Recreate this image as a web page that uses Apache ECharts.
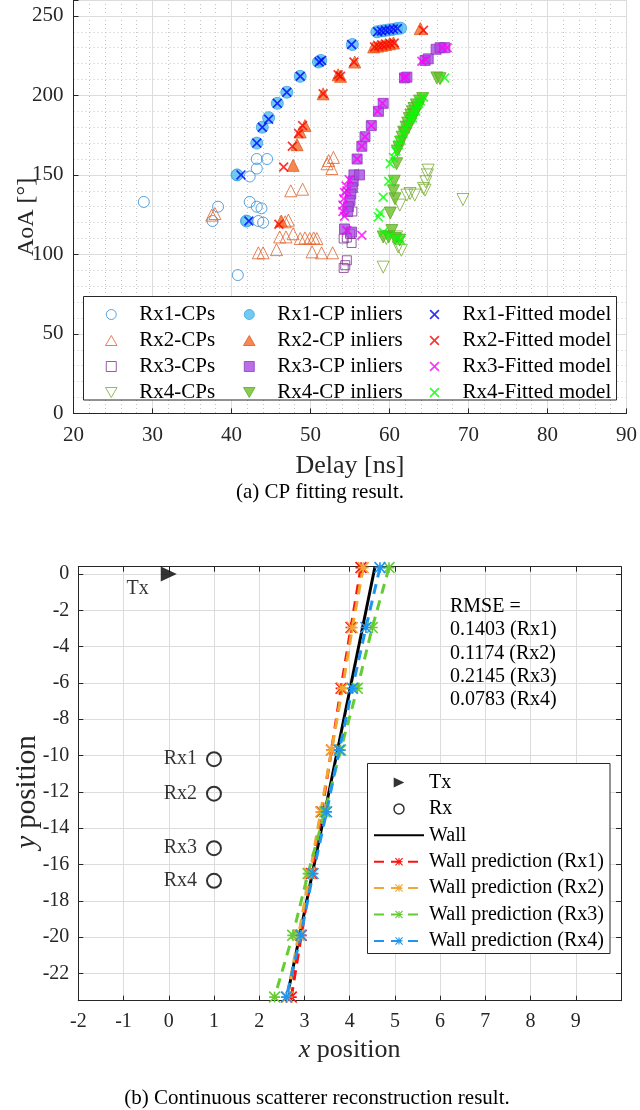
<!DOCTYPE html>
<html>
<head>
<meta charset="utf-8">
<script src="https://cdn.jsdelivr.net/npm/echarts@6/dist/echarts.min.js"></script>
<style>
html, body { margin: 0; padding: 0; background: #fff; }
#chart { width: 640px; height: 1110px; }
</style>
</head>
<body>
<div id="chart"></div>
<script>
// ---- (a) CP fitting: delay [ns] / AoA [deg] ----
const rx1CpDelay = [28.9, 37.6, 38.3, 40.8, 42.3, 43.2, 43.2, 44.5, 42.3, 43.2, 43.8, 43.4, 44.0, 40.7, 41.9]
const rx1CpAoa = [133, 121, 130, 87, 149, 154, 160, 160, 133, 130, 129, 121, 120, 150, 121]
const rx1InDelay = [40.7, 41.9, 43.2, 43.9, 44.7, 45.8, 47.0, 48.7, 51.0, 51.3, 55.3, 58.4, 58.9, 59.4, 59.9, 60.4, 60.9, 61.4]
const rx1InAoa = [150, 121, 170, 180, 186, 195, 202, 212, 221, 222, 232, 240, 240.5, 240.8, 241.2, 241.5, 242, 242.3]
const rx1FitDelay = [41.2, 42.2, 43.2, 43.9, 44.7, 45.8, 47.0, 48.7, 51.1, 51.4, 55.2, 58.5, 59.0, 59.5, 60.0, 60.5, 61.0]
const rx1FitAoa = [150, 121, 170, 180, 185, 195, 202, 212, 221, 222, 232, 240, 240.5, 241, 241.3, 241.7, 242]

const rx2CpDelay = [37.5, 37.9, 47.5, 49.0, 46.8, 47.2, 46.1, 46.9, 47.8, 48.7, 49.3, 49.9, 50.4, 50.8, 43.4, 44.0, 45.7, 50.2, 51.4, 52.8, 52.1, 52.3, 52.9, 52.7]
const rx2CpAoa = [124.7, 125.7, 140, 141, 120.5, 121.5, 111, 111, 113, 110, 110.4, 110, 110.4, 110, 101, 101, 103, 101.6, 101, 101, 157, 159, 161, 154]
const rx2InDelay = [46.3, 47.8, 48.3, 48.7, 49.3, 51.6, 53.5, 53.8, 55.6, 58.0, 58.5, 59.0, 59.5, 60.0, 60.5, 63.9]
const rx2InAoa = [121, 156, 169, 177, 181, 201, 213, 212, 221, 230.5, 231, 231.5, 232, 232.5, 233, 242]
const rx2FitDelay = [46.0, 46.6, 47.7, 48.5, 49.0, 51.6, 53.5, 53.8, 55.5, 58.1, 58.6, 59.1, 59.6, 60.1, 60.6, 64.3]
const rx2FitAoa = [119, 155, 168, 176, 181, 201, 213, 212, 221, 230.5, 231, 231.5, 232, 232.5, 233, 241]

const rx3CpDelay = [55.3, 54.6, 55.2, 54.6, 54.4, 54.2, 54.2, 55.0]
const rx3CpAoa = [127, 110.6, 107.2, 96.3, 93.2, 91.5, 110, 113]
const rx3InDelay = [55.5, 55.4, 55.3, 55.1, 55.0, 54.8, 54.7, 54.3, 55.2, 56.2, 55.9, 56.5, 56.9, 57.7, 58.6, 59.2, 61.9, 62.2, 64.5, 64.9, 65.9, 66.4, 67.0]
const rx3InAoa = [150, 146, 142, 138, 134, 130, 127, 116, 114, 150, 160, 168, 174, 181, 190, 195, 211, 211.5, 222, 223, 229, 230, 230]
const rx3FitDelay = [54.9, 54.5, 54.3, 54.2, 54.1, 54.1, 54.3, 54.6, 56.5, 55.9, 56.5, 56.9, 57.7, 58.5, 59.1, 61.8, 62.1, 64.1, 64.6, 66.7, 67.3, 54.6]
const rx3FitAoa = [147, 143, 139, 135, 131, 127, 124, 115, 112, 160, 168, 174, 181, 190, 195, 211, 211.5, 221.5, 222.5, 230, 230, 140]

const rx4CpDelay = [64.9, 64.8, 64.6, 64.5, 64.3, 62.6, 63.2, 62.2, 61.3, 69.3, 59.2, 61.5, 61.1, 60.9, 59.6]
const rx4CpAoa = [153, 150, 145.7, 140.4, 141.5, 138.3, 137.3, 137.3, 131, 134.5, 92, 102.6, 104.7, 111, 110]
const rx4InDelay = [66.0, 66.4, 64.2, 63.8, 63.4, 63.1, 62.9, 62.7, 62.5, 62.3, 62.1, 61.8, 61.6, 61.4, 61.2, 61.0, 63.6, 63.2, 62.8, 62.4, 62.0, 60.9, 60.6, 60.7, 60.1, 60.3, 59.2, 59.9, 60.7, 61.3, 60.5]
const rx4InAoa = [211, 210.5, 198, 196.4, 194, 191.8, 189.7, 187.6, 185.4, 182.6, 180, 176.9, 173.7, 170.6, 167.4, 165, 192, 188, 184, 180, 176, 157, 146, 135, 126, 115, 111, 111, 110, 109, 140]
const rx4FitDelay = [67.0, 64.3, 63.9, 63.5, 63.2, 62.9, 62.6, 62.3, 62.0, 61.7, 61.4, 61.1, 60.8, 60.5, 60.1, 59.9, 59.2, 58.8, 58.6, 59.2, 60.1, 61.0, 61.4, 63.7, 63.3, 62.9]
const rx4FitAoa = [211, 199, 196.5, 194, 191, 188, 185, 182, 179, 176, 172, 169, 165, 161, 157, 146, 136, 126, 123.6, 114, 112, 110, 109, 195, 190, 186]

// ---- (b) scatterer reconstruction ----
const txX = [0]
const txY = [0]
const rxNames = ['Rx1', 'Rx2', 'Rx3', 'Rx4']
const rxX = [1, 1, 1, 1]
const rxY = [-10.2, -12.1, -15.1, -16.9]
const wallX = [4.56, 2.6]
const wallY = [0.4, -23.5]
const predY = [0.35, -2.95, -6.3, -9.7, -13.1, -16.5, -19.9, -23.3]
const predRx1X = [4.25, 4.03, 3.81, 3.6, 3.38, 3.15, 2.93, 2.71]
const predRx2X = [4.3, 4.06, 3.84, 3.6, 3.36, 3.12, 2.87, 2.62]
const predRx3X = [4.87, 4.5, 4.17, 3.8, 3.45, 3.08, 2.74, 2.34]
const predRx4X = [4.67, 4.36, 4.06, 3.77, 3.49, 3.19, 2.92, 2.6]
const rmseText = ['RMSE =', '0.1403 (Rx1)', '0.1174 (Rx2)', '0.2145 (Rx3)', '0.0783 (Rx4)']

const FONT = '"Liberation Serif", "Times New Roman", serif'
const AXIS = '#262626'

// marker shapes
const CIRCLE = 'path://M0,5A5,5 0 1,0 10,5A5,5 0 1,0 0,5Z'
const TRI_UP = 'path://M6,0L12,10.4L0,10.4Z'
const TRI_DOWN = 'path://M0,0L12,0L6,10.4Z'
const SQUARE = 'path://M0,0H10V10H0Z'
const CROSS = 'path://M0,1.2L1.2,0L5,3.8L8.8,0L10,1.2L6.2,5L10,8.8L8.8,10L5,6.2L1.2,10L0,8.8L3.8,5Z'
const STAR = 'path://M8.5,0L11.5,0L11.5,20L8.5,20Z M0,8.5L20,8.5L20,11.5L0,11.5Z ' +
  'M1.06,-1.06L21.06,18.94L18.94,21.06L-1.06,0.94Z M21.06,1.06L1.06,21.06L-1.06,18.94L18.94,-1.06Z'
const TX_TRI = 'path://M0,0L16,7.5L0,15Z'

const pairs = (xs, ys) => xs.map((x, i) => [x, ys[i]])

function openSeries (name, xs, ys, symbol, size, color) {
  return {
    name, type: 'scatter', data: pairs(xs, ys), symbol, symbolSize: size,
    itemStyle: { color: 'rgba(0,0,0,0)', borderColor: color, borderWidth: 1 }
  }
}
function fillSeries (name, xs, ys, symbol, size, color, edge) {
  return {
    name, type: 'scatter', data: pairs(xs, ys), symbol, symbolSize: size,
    itemStyle: { color, borderColor: edge, borderWidth: 1 }
  }
}
function predSeries (name, xs, color) {
  return {
    name, type: 'line', xAxisIndex: 3, yAxisIndex: 3, data: pairs(xs, predY),
    symbol: STAR, symbolSize: 12, showAllSymbol: true,
    itemStyle: { color },
    lineStyle: { color, width: 3, type: [10, 7] }
  }
}

const topSeries = [
  openSeries('Rx1-CPs', rx1CpDelay, rx1CpAoa, CIRCLE, 11, '#2F8CD6'),
  openSeries('Rx2-CPs', rx2CpDelay, rx2CpAoa, TRI_UP, 12, '#E0612A'),
  openSeries('Rx3-CPs', rx3CpDelay, rx3CpAoa, SQUARE, 9, '#7E2F8E'),
  openSeries('Rx4-CPs', rx4CpDelay, rx4CpAoa, TRI_DOWN, 12, '#77AC30'),
  fillSeries('Rx1-CP inliers', rx1InDelay, rx1InAoa, CIRCLE, 12, '#4DBEEE', '#3AA2E0'),
  fillSeries('Rx2-CP inliers', rx2InDelay, rx2InAoa, TRI_UP, 12, '#F26A28', '#E45A1E'),
  fillSeries('Rx3-CP inliers', rx3InDelay, rx3InAoa, SQUARE, 10, '#A84BE0', '#8E3BC0'),
  fillSeries('Rx4-CP inliers', rx4InDelay, rx4InAoa, TRI_DOWN, 12, '#6DBE2A', '#5DAA22'),
  fillSeries('Rx1-Fitted model', rx1FitDelay, rx1FitAoa, CROSS, 10, '#0000FF'),
  fillSeries('Rx2-Fitted model', rx2FitDelay, rx2FitAoa, CROSS, 10, '#FF0000'),
  fillSeries('Rx3-Fitted model', rx3FitDelay, rx3FitAoa, CROSS, 10, '#FF00FF'),
  fillSeries('Rx4-Fitted model', rx4FitDelay, rx4FitAoa, CROSS, 10, '#00FF00')
]
topSeries.forEach(s => { s.xAxisIndex = 0; s.yAxisIndex = 0 })

const bottomSeries = [
  {
    name: 'Tx', type: 'scatter', xAxisIndex: 3, yAxisIndex: 3, data: pairs(txX, txY),
    symbol: TX_TRI, symbolSize: [16, 15], itemStyle: { color: '#000' },
    label: { show: true, position: 'left', distance: 12, offset: [0, 15], formatter: 'Tx', color: '#000', fontFamily: FONT, fontSize: 20 }
  },
  {
    name: 'Rx', type: 'scatter', xAxisIndex: 3, yAxisIndex: 3, data: pairs(rxX, rxY),
    symbol: CIRCLE, symbolSize: 14,
    itemStyle: { color: 'rgba(0,0,0,0)', borderColor: '#000', borderWidth: 2 },
    label: { show: true, position: 'left', distance: 9, formatter: p => rxNames[p.dataIndex], color: '#000', fontFamily: FONT, fontSize: 20 }
  },
  {
    name: 'Wall', type: 'line', xAxisIndex: 3, yAxisIndex: 3, data: pairs(wallX, wallY),
    symbol: 'none', itemStyle: { color: 'rgba(0,0,0,0)' },
    lineStyle: { color: '#000', width: 3 }
  },
  predSeries('Wall prediction (Rx1)', predRx1X, '#FF1010'),
  predSeries('Wall prediction (Rx2)', predRx2X, '#F0A830'),
  predSeries('Wall prediction (Rx3)', predRx3X, '#66CC33'),
  predSeries('Wall prediction (Rx4)', predRx4X, '#1E96F0')
]

const tickFont = { color: AXIS, fontFamily: FONT, fontSize: 21 }
const nameFont = { color: AXIS, fontFamily: FONT, fontSize: 26 }
const majorGrid = { show: true, lineStyle: { color: '#dcdcdc', width: 1 } }
const minorGrid = { show: true, lineStyle: { color: '#c4c4c4', width: 1, type: [1, 3] } }
const boxLine = { show: true, onZero: false, lineStyle: { color: AXIS, width: 1 } }
const inTick = { show: true, inside: true, length: 5, lineStyle: { color: AXIS } }
const hidden = { axisLine: { show: false }, axisTick: { show: false }, axisLabel: { show: false } }

const legendCommon = {
  orient: 'vertical', itemWidth: 46, itemHeight: 10, itemGap: 5, padding: 0,
  selectedMode: false, z: 20,
  itemStyle: { borderWidth: 1 },
  textStyle: { fontFamily: FONT, fontSize: 21, color: '#000', lineHeight: 20 }
}

const option = {
  animation: false,
  backgroundColor: '#fff',
  grid: [
    { left: 73.5, right: 13, top: -1, bottom: 696.6 },
    { left: 78.3, right: 19, top: 566.7, bottom: 109.3 }
  ],
  xAxis: [
    {
      gridIndex: 0, type: 'value', position: 'bottom', min: 20, max: 90, interval: 10, z: 1,
      name: 'Delay [ns]', nameLocation: 'middle', nameGap: 40, nameTextStyle: nameFont,
      axisLine: boxLine, axisTick: inTick, axisLabel: { ...tickFont, margin: 12 }, splitLine: majorGrid
    },
    {
      gridIndex: 0, type: 'value', position: 'top', min: 20, max: 90, interval: 10,
      axisLine: boxLine, axisTick: inTick, axisLabel: { show: false }, splitLine: { show: false }
    },
    {
      gridIndex: 0, type: 'value', position: 'bottom', min: 20, max: 90, interval: 2, z: 0,
      ...hidden, splitLine: minorGrid
    },
    {
      gridIndex: 1, type: 'value', position: 'bottom', min: -2, max: 10, interval: 1,
      name: '{i|x} position', nameLocation: 'middle', nameGap: 36,
      nameTextStyle: { ...nameFont, rich: { i: { fontStyle: 'italic', fontFamily: FONT, fontSize: 26, color: AXIS } } },
      axisLine: boxLine, axisTick: inTick,
      axisLabel: { ...tickFont, fontSize: 20, margin: 11, showMaxLabel: false }, splitLine: majorGrid
    },
    {
      gridIndex: 1, type: 'value', position: 'top', min: -2, max: 10, interval: 1,
      axisLine: boxLine, axisTick: inTick, axisLabel: { show: false }, splitLine: { show: false }
    }
  ],
  yAxis: [
    {
      gridIndex: 0, type: 'value', position: 'left', min: 0, max: 260, interval: 50, z: 1,
      axisLine: boxLine, axisTick: inTick,
      axisLabel: { ...tickFont, margin: 10, formatter: v => (v % 50 === 0 ? String(v) : '') },
      splitLine: majorGrid
    },
    {
      gridIndex: 0, type: 'value', position: 'right', min: 0, max: 260, interval: 50,
      axisLine: boxLine, axisTick: inTick, axisLabel: { show: false }, splitLine: { show: false }
    },
    {
      gridIndex: 0, type: 'value', position: 'left', min: 0, max: 260, interval: 10, z: 0,
      ...hidden, splitLine: minorGrid
    },
    {
      gridIndex: 1, type: 'value', position: 'left', min: -23.5, max: 0.4, splitNumber: 12,
      axisLine: boxLine, axisTick: inTick,
      axisLabel: {
        ...tickFont, fontSize: 20, margin: 9,
        formatter: v => (Math.abs(v - Math.round(v)) < 1e-6 && Math.round(v) % 2 === 0 ? String(Math.round(v)) : '')
      },
      splitLine: majorGrid
    },
    {
      gridIndex: 1, type: 'value', position: 'right', min: -23.5, max: 0.4, splitNumber: 12,
      axisLine: boxLine, axisTick: inTick, axisLabel: { show: false }, splitLine: { show: false }
    }
  ],
  legend: [
    { ...legendCommon, left: 105, top: 304, data: ['Rx1-CPs', 'Rx2-CPs', 'Rx3-CPs', 'Rx4-CPs'] },
    { ...legendCommon, left: 243, top: 304, data: ['Rx1-CP inliers', 'Rx2-CP inliers', 'Rx3-CP inliers', 'Rx4-CP inliers'] },
    { ...legendCommon, left: 429.5, top: 304, data: ['Rx1-Fitted model', 'Rx2-Fitted model', 'Rx3-Fitted model', 'Rx4-Fitted model'] },
    {
      ...legendCommon, left: 373, top: 772.5, itemWidth: 50, itemGap: 6.4,
      itemStyle: { borderWidth: 1.5 },
      textStyle: { fontFamily: FONT, fontSize: 20, color: '#000', lineHeight: 20 },
      data: ['Tx', 'Rx', 'Wall', 'Wall prediction (Rx1)', 'Wall prediction (Rx2)', 'Wall prediction (Rx3)', 'Wall prediction (Rx4)']
    }
  ],
  graphic: [
    {
      type: 'rect', z: 10, shape: { x: 83.5, y: 296.5, width: 533, height: 103.5 },
      style: { fill: '#fff', stroke: AXIS, lineWidth: 1 }
    },
    {
      type: 'rect', z: 10, shape: { x: 367.5, y: 763.5, width: 242.5, height: 190 },
      style: { fill: '#fff', stroke: AXIS, lineWidth: 1 }
    },
    {
      type: 'text', z: 10, x: 450, y: 595,
      style: { text: rmseText.join('\n'), font: '20px ' + FONT, fill: '#000', lineHeight: 23.3 }
    },
    // y axis titles, placed where the figure has them
    {
      type: 'text', z: 10, x: 27, y: 217, rotation: Math.PI / 2,
      style: { text: 'AoA [°]', font: '24px ' + FONT, fill: AXIS, align: 'center', verticalAlign: 'middle' }
    },
    {
      type: 'text', z: 10, x: 27, y: 792, rotation: Math.PI / 2,
      style: {
        text: '{i|y} position', font: '29px ' + FONT, fill: AXIS, align: 'center', verticalAlign: 'middle',
        rich: { i: { fontStyle: 'italic', fontFamily: FONT, fontSize: 29, fill: AXIS } }
      }
    },
    {
      type: 'text', z: 10, x: 320, y: 492,
      style: { text: '(a) CP fitting result.', font: '21px ' + FONT, fill: '#000', align: 'center', verticalAlign: 'middle' }
    },
    {
      type: 'text', z: 10, x: 317, y: 1098,
      style: { text: '(b) Continuous scatterer reconstruction result.', font: '21px ' + FONT, fill: '#000', align: 'center', verticalAlign: 'middle' }
    }
  ],
  series: topSeries.concat(bottomSeries)
}

const chart = echarts.init(document.getElementById('chart'))
chart.setOption(option)
</script>
</body>
</html>
